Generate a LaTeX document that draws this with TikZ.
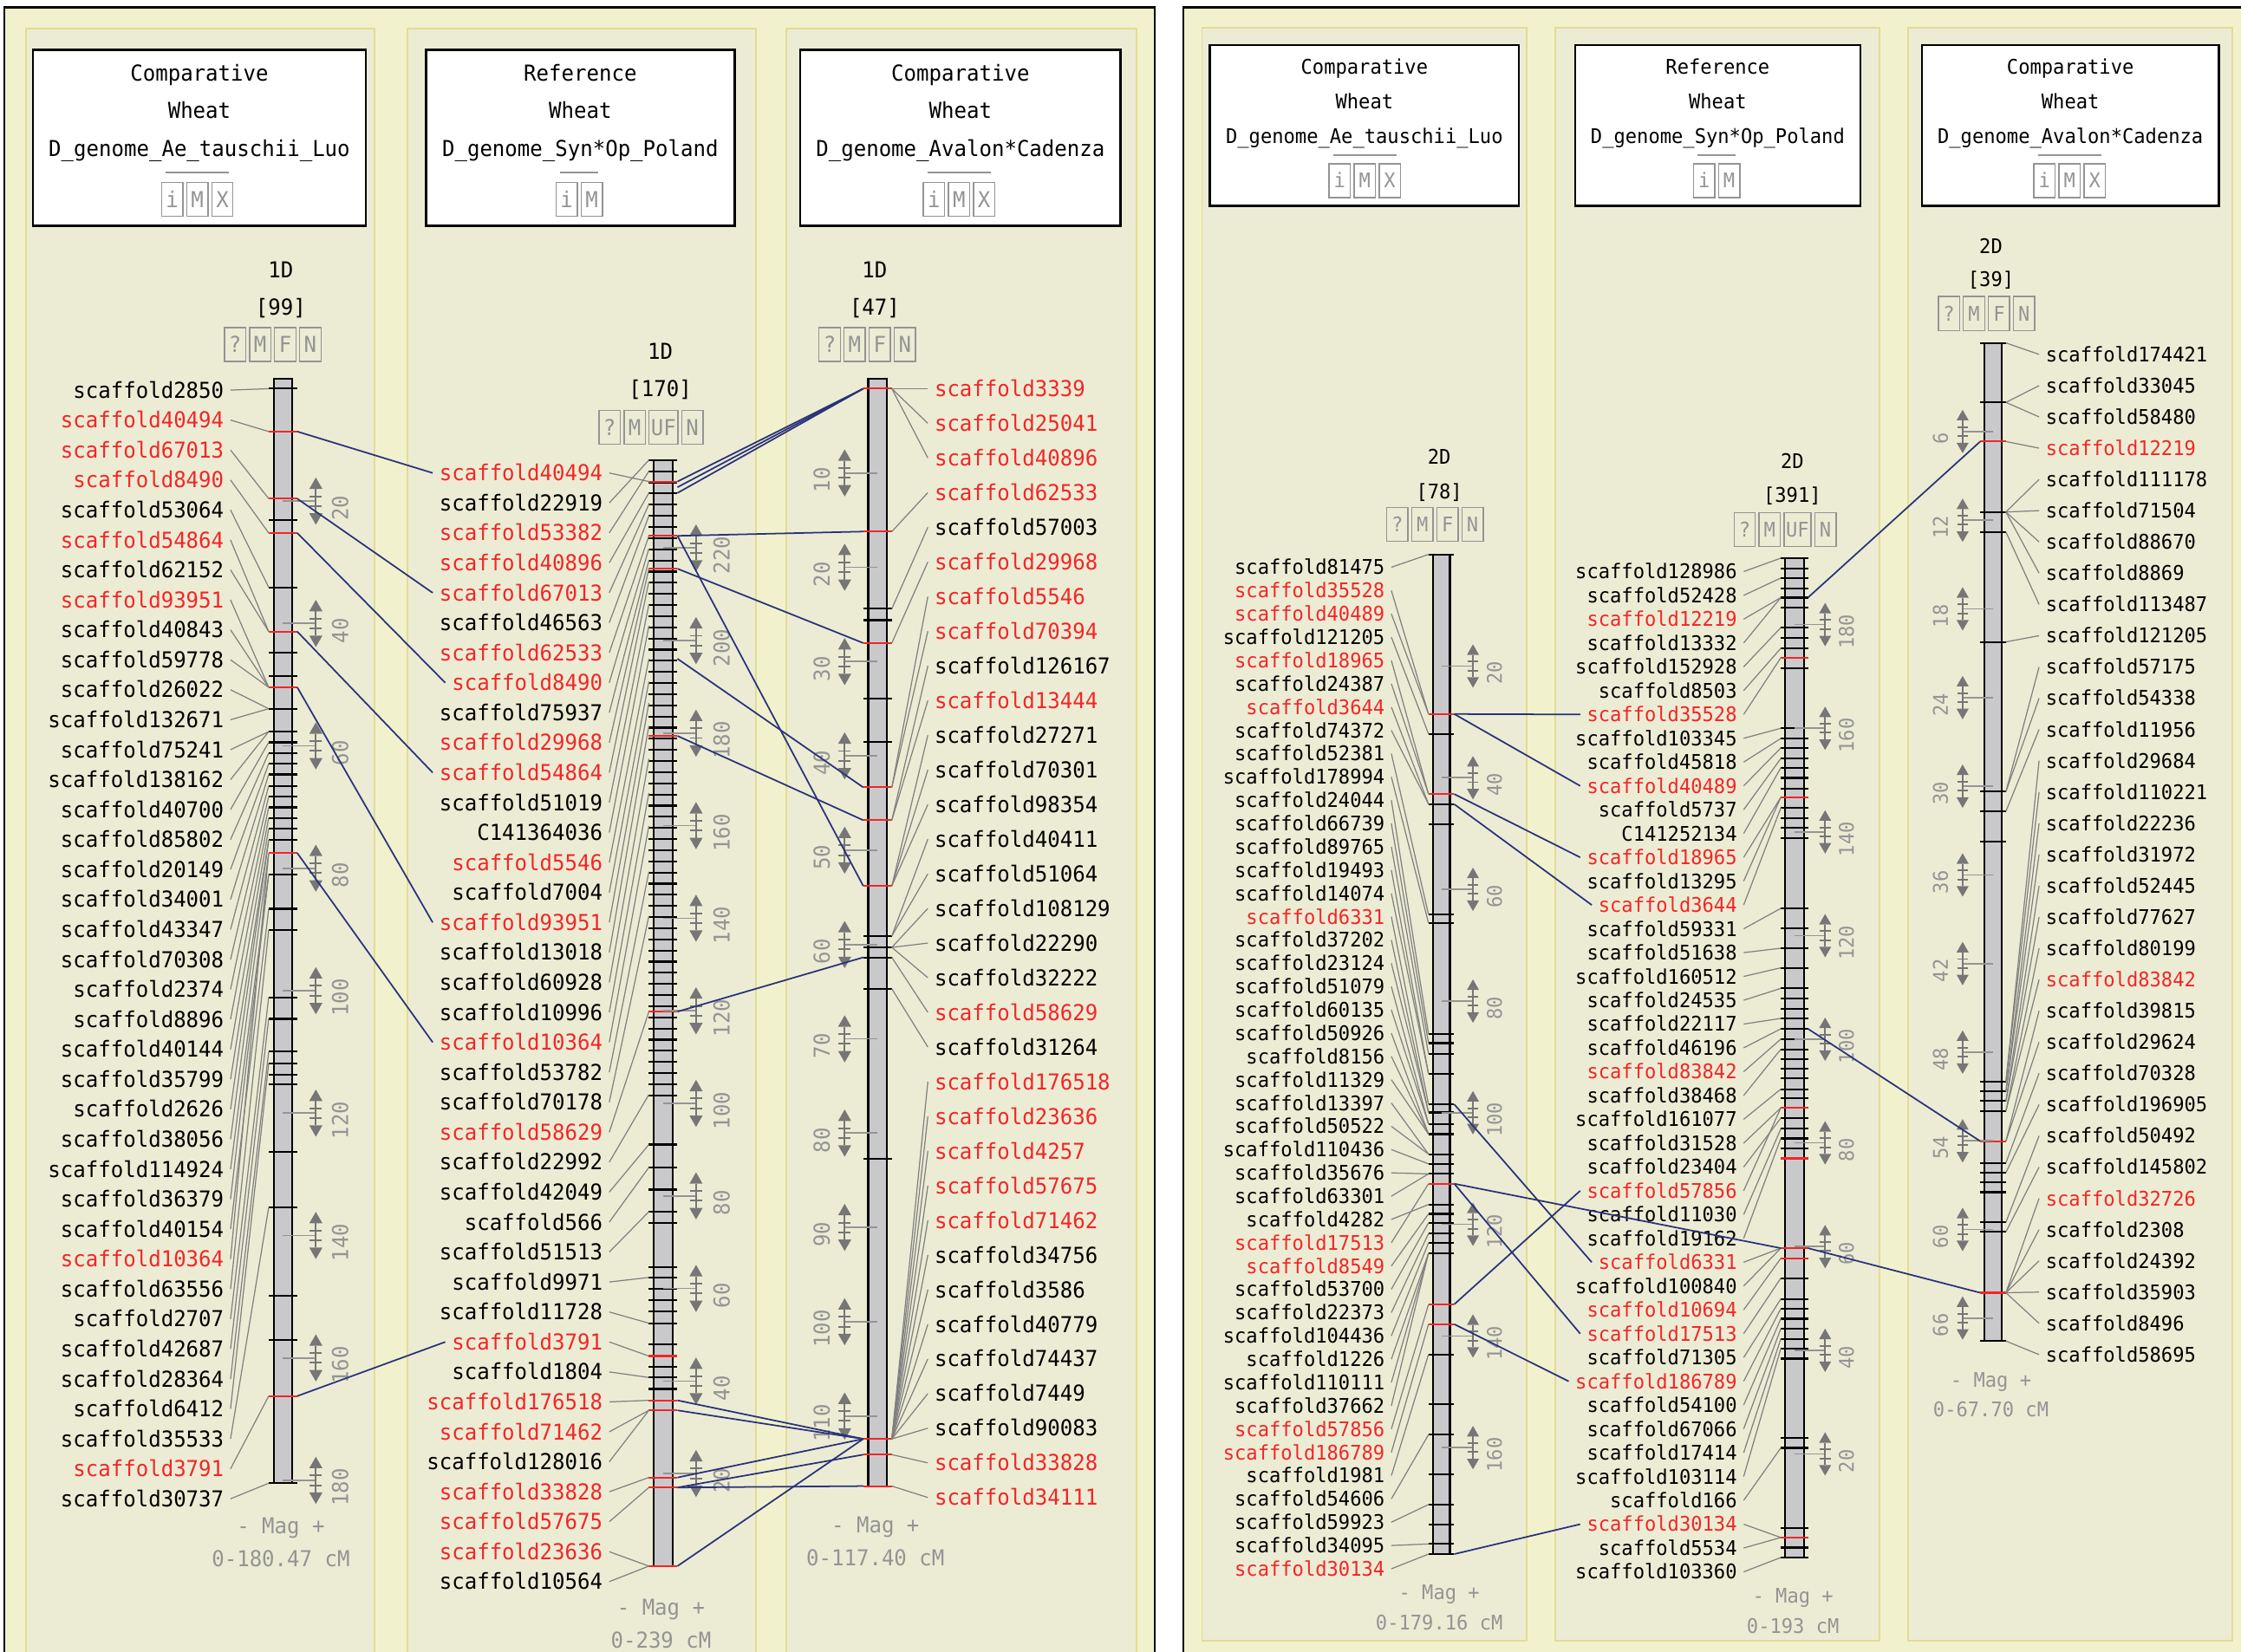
\documentclass[tikz,border=0pt]{standalone}
\usepackage{fontspec}
\newfontfamily\pixfont[FakeStretch=0.95]{DejaVu Sans Mono}
\usetikzlibrary{positioning}

\definecolor{panelbg}{RGB}{241,242,205}
\definecolor{stripbg}{RGB}{236,236,213}
\definecolor{stripedge}{RGB}{228,219,148}
\definecolor{barfill}{RGB}{201,201,204}
\definecolor{leadgray}{RGB}{128,128,128}
\definecolor{txtgray}{RGB}{148,148,148}
\definecolor{icongray}{RGB}{118,118,118}
\definecolor{linkblue}{RGB}{42,50,122}
\definecolor{r}{RGB}{242,38,38}
\colorlet{k}{black}

\tikzset{
  fa/.style={font=\pixfont\fontsize{7.2}{12}\selectfont,text height=5.2pt,text depth=0pt},
  fb/.style={font=\pixfont\fontsize{6.62}{11}\selectfont,text height=4.8pt,text depth=0pt},
  lab/.style={inner xsep=2pt,inner ysep=0.6pt},
  leader/.style={draw=leadgray,line width=0.35pt},
  mtick/.style={draw=black,line width=0.6pt},
  rtick/.style={draw=r,line width=0.6pt},
  chrbar/.style={fill=barfill,draw=black,line width=0.6pt},
  link/.style={draw=linkblue,line width=0.5pt},
  strip/.style={fill=stripbg,draw=stripedge,line width=0.5pt},
  hbox/.style={fill=white,draw=black,line width=0.7pt},
  hline/.style={draw=txtgray,line width=0.6pt},
  btn/.style={draw=txtgray,text=txtgray,line width=0.4pt,minimum width=0.245cm,minimum height=0.39cm,inner sep=0.6pt},
  cmline/.style={draw=txtgray,line width=0.5pt},
  cmnum/.style={text=txtgray,rotate=90,inner sep=0pt},
  gtxt/.style={text=txtgray},
  cmark/.pic={
    \fill[icongray] (0,-16.5) -- (-4.6,-8.5) -- (4.6,-8.5) -- cycle;
    \fill[icongray] (0,16.5) -- (-4.6,8.5) -- (4.6,8.5) -- cycle;
    \draw[icongray,line width=0.55pt] (0,-8.5) -- (0,8.5) (-4.2,-3.4) -- (4.2,-3.4) (-4.2,3.4) -- (4.2,3.4);
  }
}
% a row of small grey buttons, each one right of the one before
\newcommand\btnrow[4]{%
  \foreach \t [count=\k, remember=\k as \j (initially 0)] in {#4} {
    \ifnum\k=1 \node[btn] (#1\k) at (#2,#3) {\t};
    \else \node[btn,right=0.03cm of #1\j] (#1\k) {\t};\fi}}

\begin{document}
\begin{tikzpicture}[x=0.016486cm,y=-0.016486cm]
\useasboundingbox (0,0) rectangle (1568,1156);
\clip (0,0) rectangle (1568,1156);
\fill[white] (0,0) rectangle (1568,1156);
% the two screenshots and their track strips
\draw[fill=panelbg,line width=0.8pt] (3,5) rectangle (808,1180);
\draw[fill=panelbg,line width=0.8pt] (828,5) rectangle (1600,1180);
\foreach \xa/\xb in {18/262,285/529,550/795} \draw[strip] (\xa,20) rectangle (\xb,1180);
\foreach \xa/\xb in {841/1068,1088/1315,1335/1562} \draw[strip] (\xa,19.5) rectangle (\xb,1148);

%%%%% left panel: 1D
\begin{scope}[every node/.append style={fa}]
\foreach \n/\xa/\xb/\kind/\gen in {a1/23/256/Comparative/Ae\_tauschii\_Luo,a2/298/514/Reference/Syn*Op\_Poland,a3/560/784/Comparative/Avalon*Cadenza} {
  \draw[hbox] (\xa,35) rectangle (\xb,158);
  \node (\n h1) at ({(\xa+\xb)/2},51) {\kind};
  \node (\n h2) at ({(\xa+\xb)/2},77.5) {Wheat};
  \node (\n h3) at ({(\xa+\xb)/2},104) {D\_genome\_\gen};
}
\btnrow{a1hb}{120.5}{139.5}{i,M,X}
\btnrow{a2hb}{396.5}{139.5}{i,M}
\btnrow{a3hb}{653.5}{139.5}{i,M,X}
\foreach \n/\m in {a1/3,a2/2,a3/3}
  \draw[hline] ([xshift=1.5pt,yshift=3pt]\n hb1.north west) -- ([xshift=-1.5pt,yshift=3pt]\n hb\m.north east);

% 1D, Ae. tauschii
\node (a1c) at (196.5,189) {1D};
\node (a1n) at (196.5,215) {[99]};
\btnrow{a1b}{164.5}{241}{?,M,F,N}
\draw[chrbar] (191.5,265) rectangle (204.5,1038);
\foreach \y in {272,364,411,457,473,496,512,519.5,527,534.5,542,550,557.5,565,572.5,580,588,612,636,651,698,713,736,744,752,759,806,845,907,938,1038}
  \draw[mtick] (188,\y) -- (208,\y);
\foreach \y in {302,349,373,442,481,597,977}
  \draw[rtick] (188,\y) -- (208,\y);
\foreach \v/\y in {20/350.7,40/436.3,60/522,80/607.6,100/693.3,120/779,140/864.6,160/950.3,180/1036} {
  \draw[cmline] (198,\y) -- (221,\y);
  \pic at (221,\y) {cmark};
  \node[cmnum] (a1s\v) at (238,\y+5) {\v};
}
\foreach \n/\c/\t [count=\i] in {scaffold2850/k/272,scaffold40494/r/302,scaffold67013/r/349,scaffold8490/r/373,scaffold53064/k/411,scaffold54864/r/442,scaffold62152/k/442,scaffold93951/r/481,scaffold40843/k/481,scaffold59778/k/481,scaffold26022/k/496,scaffold132671/k/496,scaffold75241/k/512,scaffold138162/k/512,scaffold40700/k/519.5,scaffold85802/k/527,scaffold20149/k/534.5,scaffold34001/k/542,scaffold43347/k/550,scaffold70308/k/557.5,scaffold2374/k/565,scaffold8896/k/572.5,scaffold40144/k/580,scaffold35799/k/588,scaffold2626/k/588,scaffold38056/k/597,scaffold114924/k/612,scaffold36379/k/612,scaffold40154/k/636,scaffold10364/r/597,scaffold63556/k/651,scaffold2707/k/698,scaffold42687/k/713,scaffold28364/k/736,scaffold6412/k/744,scaffold35533/k/845,scaffold3791/r/977,scaffold30737/k/1038} {
  \node[lab,text=\c,anchor=east] (a1l\i) at (161.3,{273+(\i-1)*20.97}) {\n};
  \coordinate (a1t\i) at (188,\t);
  \draw[leader] (a1l\i.east) -- (a1t\i);
}
\node[gtxt] (a1mag) at (196.5,1068) {- Mag +};
\node[gtxt] (a1rng) at (196.5,1091) {0-180.47 cM};

% 1D, reference map
\node (a2c) at (462,246) {1D};
\node (a2n) at (462,272) {[170]};
\btnrow{a2b}{426.5}{299}{?,M,UF,N}
\draw[chrbar] (457.5,322) rectangle (470.5,1096);
\foreach \y in {322,329.8,...,768,801,817,832.5,848,856,887,894,902,910,918,926,941,956.6,964,972,1096}
  \draw[mtick] (454,\y) -- (474,\y);
\foreach \y in {337,375,398,515,708,949,980,987,1034,1041,1096}
  \draw[rtick] (454,\y) -- (474,\y);
\foreach \v/\y in {20/1031.2,40/966.5,60/901.7,80/836.9,100/772.2,120/707.4,140/642.6,160/577.8,180/513.1,200/448.3,220/383.5} {
  \draw[cmline] (464,\y) -- (487,\y);
  \pic at (487,\y) {cmark};
  \node[cmnum] (a2s\v) at (505,\y+5) {\v};
}
\foreach \n/\c/\t [count=\i] in {scaffold40494/r/337,scaffold22919/k/322,scaffold53382/r/329.8,scaffold40896/r/345,scaffold67013/r/353,scaffold46563/k/361,scaffold62533/r/375,scaffold8490/r/384,scaffold75937/k/392,scaffold29968/r/398,scaffold54864/r/407,scaffold51019/k/423,C141364036/k/438,scaffold5546/r/461,scaffold7004/k/477,scaffold93951/r/492,scaffold13018/k/508,scaffold60928/k/531,scaffold10996/k/555,scaffold10364/r/578,scaffold53782/k/610,scaffold70178/k/641,scaffold58629/r/708,scaffold22992/k/766,scaffold42049/k/801,scaffold566/k/817,scaffold51513/k/848,scaffold9971/k/894,scaffold11728/k/926,scaffold3791/r/949,scaffold1804/k/964,scaffold176518/r/980,scaffold71462/r/987,scaffold128016/k/987,scaffold33828/r/1034,scaffold57675/r/1041,scaffold23636/r/1096,scaffold10564/k/1096} {
  \node[lab,text=\c,anchor=east] (a2l\i) at (426.3,{331+(\i-1)*20.97}) {\n};
  \coordinate (a2t\i) at (454,\t);
  \draw[leader] (a2l\i.east) -- (a2t\i);
}
\node[gtxt] (a2mag) at (462.5,1125) {- Mag +};
\node[gtxt] (a2rng) at (462.5,1148) {0-239 cM};

% 1D, Avalon x Cadenza
\node (a3c) at (612,189) {1D};
\node (a3n) at (612,215) {[47]};
\btnrow{a3b}{580.5}{241}{?,M,F,N}
\draw[chrbar] (607.5,265) rectangle (620.5,1040);
\foreach \y in {426,434,489,519,655,663,670,692,811}
  \draw[mtick] (604,\y) -- (624,\y);
\foreach \y in {272,372,450,551,574,620,1007,1018,1040}
  \draw[rtick] (604,\y) -- (624,\y);
\foreach \v/\y in {10/331,20/397,30/463,40/529,50/595,60/661,70/727,80/793,90/859,100/925,110/991} {
  \draw[cmline] (591,\y) -- (614,\y);
  \pic at (591,\y) {cmark};
  \node[cmnum] (a3s\v) at (575,\y+5) {\v};
}
\foreach \n/\c/\t [count=\i] in {scaffold3339/r/272,scaffold25041/r/272,scaffold40896/r/272,scaffold62533/r/372,scaffold57003/k/426,scaffold29968/r/450,scaffold5546/r/551,scaffold70394/r/551,scaffold126167/k/574,scaffold13444/r/574,scaffold27271/k/620,scaffold70301/k/620,scaffold98354/k/620,scaffold40411/k/655,scaffold51064/k/655,scaffold108129/k/663,scaffold22290/k/663,scaffold32222/k/663,scaffold58629/r/670,scaffold31264/k/692,scaffold176518/r/1007,scaffold23636/r/1007,scaffold4257/r/1007,scaffold57675/r/1007,scaffold71462/r/1007,scaffold34756/k/1007,scaffold3586/k/1007,scaffold40779/k/1007,scaffold74437/k/1007,scaffold7449/k/1007,scaffold90083/k/1007,scaffold33828/r/1018,scaffold34111/r/1040} {
  \node[lab,text=\c,anchor=west] (a3l\i) at (649.2,{272+(\i-1)*24.25}) {\n};
  \coordinate (a3t\i) at (624,\t);
  \draw[leader] (a3t\i) -- (a3l\i.west);
}
\node[gtxt] (a3mag) at (612.5,1067) {- Mag +};
\node[gtxt] (a3rng) at (612.5,1090.5) {0-117.40 cM};
\end{scope}

%%%%% right panel: 2D
\begin{scope}[every node/.append style={fb}]
\foreach \n/\xa/\xb/\kind/\gen in {b1/846.6/1062.7/Comparative/Ae\_tauschii\_Luo,b2/1102/1301.7/Reference/Syn*Op\_Poland,b3/1344.6/1552.6/Comparative/Avalon*Cadenza} {
  \draw[hbox] (\xa,31.7) rectangle (\xb,144);
  \node (\n h1) at ({(\xa+\xb)/2},47) {\kind};
  \node (\n h2) at ({(\xa+\xb)/2},71) {Wheat};
  \node (\n h3) at ({(\xa+\xb)/2},95) {D\_genome\_\gen};
}
\btnrow{b1hb}{937.3}{126.4}{i,M,X}
\btnrow{b2hb}{1192.3}{126.4}{i,M}
\btnrow{b3hb}{1430.5}{126.4}{i,M,X}
\foreach \n/\m in {b1/3,b2/2,b3/3}
  \draw[hline] ([xshift=1.5pt,yshift=2.6pt]\n hb1.north west) -- ([xshift=-1.5pt,yshift=2.6pt]\n hb\m.north east);

% 2D, Ae. tauschii
\node (b1c) at (1007,320) {2D};
\node (b1n) at (1007,344) {[78]};
\btnrow{b1b}{977.7}{367}{?,M,F,N}
\draw[chrbar] (1002.5,388) rectangle (1014.5,1087.6);
\foreach \y in {388,513.6,562.8,576.8,640,646,723.7,730,737.6,751.6,772.8,778.5,786.6,793.7,807.7,814.5,821.5,843,849.5,855.8,863.3,869.7,877,947.8,982.7,1004,1031.8,1052.9,1066.8,1080.5,1087.6}
  \draw[mtick] (999.5,\y) -- (1017.5,\y);
\foreach \y in {499.7,555.7,828.4,912.8,926.7}
  \draw[rtick] (999.5,\y) -- (1017.5,\y);
\foreach \v/\y in {20/466.1,40/544.3,60/622.4,80/700.6,100/778.7,120/856.8,140/935,160/1013.1} {
  \draw[cmline] (1008.5,\y) -- (1030.6,\y);
  \pic[scale=0.92] at (1030.6,\y) {cmark};
  \node[cmnum] (b1s\v) at (1045.7,\y+5) {\v};
}
\foreach \n/\c/\t [count=\i] in {scaffold81475/k/388,scaffold35528/r/499.7,scaffold40489/r/499.7,scaffold121205/k/513.6,scaffold18965/r/555.7,scaffold24387/k/555.7,scaffold3644/r/562.8,scaffold74372/k/562.8,scaffold52381/k/640,scaffold178994/k/646,scaffold24044/k/723.7,scaffold66739/k/730,scaffold89765/k/737.6,scaffold19493/k/751.6,scaffold14074/k/751.6,scaffold6331/r/772.8,scaffold37202/k/778.5,scaffold23124/k/778.5,scaffold51079/k/786.6,scaffold60135/k/786.6,scaffold50926/k/793.7,scaffold8156/k/793.7,scaffold11329/k/793.7,scaffold13397/k/807.7,scaffold50522/k/807.7,scaffold110436/k/814.5,scaffold35676/k/821.5,scaffold63301/k/821.5,scaffold4282/k/843,scaffold17513/r/828.4,scaffold8549/r/849.5,scaffold53700/k/855.8,scaffold22373/k/863.3,scaffold104436/k/869.7,scaffold1226/k/877,scaffold110111/k/877,scaffold37662/k/877,scaffold57856/r/912.8,scaffold186789/r/926.7,scaffold1981/k/947.8,scaffold54606/k/1004,scaffold59923/k/1052.9,scaffold34095/k/1080.5,scaffold30134/r/1087.6} {
  \node[lab,text=\c,anchor=east] (b1l\i) at (973.5,{397+(\i-1)*16.3}) {\n};
  \coordinate (b1t\i) at (999.5,\t);
  \draw[leader] (b1l\i.east) -- (b1t\i);
}
\node[gtxt] (b1mag) at (1007,1114) {- Mag +};
\node[gtxt] (b1rng) at (1007,1135.5) {0-179.16 cM};

% 2D, reference map
\node (b2c) at (1254,322.8) {2D};
\node (b2n) at (1254,346.5) {[391]};
\btnrow{b2b}{1220.7}{370.5}{?,M,UF,N}
\draw[chrbar] (1249,390.6) rectangle (1262,1090);
\foreach \y in {390.6,397.7,404.5,411.6,418.2,425.3,439.2,446.3,453.7,467.4,509.7,516.8,523.4,530.8,537.3,544.4,551.8,565.4,572.8,579.4,586.5,635.7,649.6,663.6,677.3,691.7,699,706,712.7,720,727.2,734.3,741.2,747.8,754.8,762.2,768.5,782.5,790,796.7,803.8,894.5,909,915.8,922.9,929.8,936.9,943.7,950.8,1006.4,1013.3,1069.4,1083,1090}
  \draw[mtick] (1246,\y) -- (1265,\y);
\foreach \y in {460.3,558,775.3,810.7,873.5,880.6,1076}
  \draw[rtick] (1246,\y) -- (1265,\y);
\foreach \v/\y in {20/1017.5,40/945,60/872.4,80/799.8,100/727.3,120/654.8,140/582.2,160/509.7,180/437.1} {
  \draw[cmline] (1255.5,\y) -- (1277,\y);
  \pic[scale=0.92] at (1277,\y) {cmark};
  \node[cmnum] (b2s\v) at (1292,\y+5) {\v};
}
\foreach \n/\c/\t [count=\i] in {scaffold128986/k/390.6,scaffold52428/k/404.5,scaffold12219/r/418.2,scaffold13332/k/418.2,scaffold152928/k/439.2,scaffold8503/k/453.7,scaffold35528/r/460.3,scaffold103345/k/509.7,scaffold45818/k/516.8,scaffold40489/r/523.4,scaffold5737/k/530.8,C141252134/k/537.3,scaffold18965/r/558,scaffold13295/k/558,scaffold3644/r/565.4,scaffold59331/k/635.7,scaffold51638/k/663.6,scaffold160512/k/677.3,scaffold24535/k/691.7,scaffold22117/k/712.7,scaffold46196/k/720,scaffold83842/r/727.2,scaffold38468/k/734.3,scaffold161077/k/762.2,scaffold31528/k/775.3,scaffold23404/k/782.5,scaffold57856/r/775.3,scaffold11030/k/790,scaffold19162/k/796.7,scaffold6331/r/873.5,scaffold100840/k/873.5,scaffold10694/r/880.6,scaffold17513/r/894.5,scaffold71305/k/909,scaffold186789/r/915.8,scaffold54100/k/922.9,scaffold67066/k/929.8,scaffold17414/k/936.9,scaffold103114/k/943.7,scaffold166/k/1013.3,scaffold30134/r/1076,scaffold5534/k/1076,scaffold103360/k/1090} {
  \node[lab,text=\c,anchor=east] (b2l\i) at (1220,{400+(\i-1)*16.667}) {\n};
  \coordinate (b2t\i) at (1246,\t);
  \draw[leader] (b2l\i.east) -- (b2t\i);
}
\node[gtxt] (b2mag) at (1254.5,1116.5) {- Mag +};
\node[gtxt] (b2rng) at (1254.5,1138) {0-193 cM};

% 2D, Avalon x Cadenza
\node (b3c) at (1393,172) {2D};
\node (b3n) at (1393,195.5) {[39]};
\btnrow{b3b}{1363.6}{219.4}{?,M,F,N}
\draw[chrbar] (1388.5,240) rectangle (1400.5,938.5);
\foreach \y in {240,281.6,358.3,372.3,449.2,554,567.8,589.2,757,763.8,770.6,777.5,813.8,820.6,827.4,834.3,855.4,862,938.5}
  \draw[mtick] (1385.5,\y) -- (1403.5,\y);
\foreach \y in {309,798.6,904.7}
  \draw[rtick] (1385.5,\y) -- (1403.5,\y);
\foreach \v/\y in {6/302,12/364.1,18/426.1,24/488.2,30/550.2,36/612.3,42/674.3,48/736.3,54/798.4,60/860.4,66/922.4} {
  \draw[cmline] (1373.2,\y) -- (1394.5,\y);
  \pic[scale=0.92] at (1373.2,\y) {cmark};
  \node[cmnum] (b3s\v) at (1357.8,\y+5) {\v};
}
\foreach \n/\c/\t [count=\i] in {scaffold174421/k/240,scaffold33045/k/281.6,scaffold58480/k/281.6,scaffold12219/r/309,scaffold111178/k/358.3,scaffold71504/k/358.3,scaffold88670/k/358.3,scaffold8869/k/358.3,scaffold113487/k/372.3,scaffold121205/k/449.2,scaffold57175/k/554,scaffold54338/k/554,scaffold11956/k/567.8,scaffold29684/k/757,scaffold110221/k/757,scaffold22236/k/763.8,scaffold31972/k/763.8,scaffold52445/k/770.6,scaffold77627/k/770.6,scaffold80199/k/777.5,scaffold83842/r/777.5,scaffold39815/k/798.6,scaffold29624/k/798.6,scaffold70328/k/813.8,scaffold196905/k/820.6,scaffold50492/k/855.4,scaffold145802/k/862,scaffold32726/r/904.7,scaffold2308/k/904.7,scaffold24392/k/904.7,scaffold35903/k/904.7,scaffold8496/k/904.7,scaffold58695/k/938.5} {
  \node[lab,text=\c,anchor=west] (b3l\i) at (1426.7,{248+(\i-1)*21.875}) {\n};
  \coordinate (b3t\i) at (1403.5,\t);
  \draw[leader] (b3t\i) -- (b3l\i.west);
}
\node[gtxt] (b3mag) at (1393,965.5) {- Mag +};
\node[gtxt] (b3rng) at (1393,986.5) {0-67.70 cM};
\end{scope}

%%%%% links between maps
\foreach \y/\j in {302/1,349/5,373/8,442/11,481/16,597/20,977/30} {
  \coordinate (p) at (208,\y);
  \draw[link] (p) -- (a2l\j.west);
}
\foreach \ya/\yb in {337/272,341/272,345/272,375/372,375/620,398/450,461/551,515/574,708/670,980/1007,987/1007,1034/1007,1041/1018,1041/1040,1096/1007} {
  \coordinate (p) at (474,\ya); \coordinate (q) at (604,\yb);
  \draw[link] (p) -- (q);
}
\foreach \y/\j in {499.7/7,499.7/10,555.7/13,562.8/15,772.8/30,828.4/33,912.8/27,926.7/35,1087.6/41} {
  \coordinate (p) at (1017.5,\y);
  \draw[link] (p) -- (b2l\j.west);
}
\coordinate (p) at (1017.5,828.4); \coordinate (q) at (1246,873.5);
\draw[link] (p) -- (q);
\foreach \ya/\yb in {418.2/309,720/798.6,873.5/904.7} {
  \coordinate (p) at (1265,\ya); \coordinate (q) at (1385.5,\yb);
  \draw[link] (p) -- (q);
}
\end{tikzpicture}
\end{document}
